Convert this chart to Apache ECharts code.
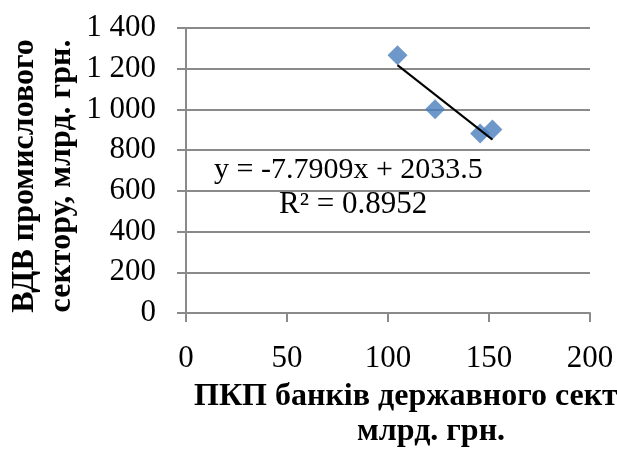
<!DOCTYPE html>
<html>
<head>
<meta charset="utf-8">
<script src="https://cdn.jsdelivr.net/npm/echarts@6/dist/echarts.min.js"></script>
<style>
  html, body { margin: 0; padding: 0; background: #ffffff; }
  #chart { width: 617px; height: 449px; }
</style>
</head>
<body>
<div id="chart"></div>
<script>
// Loans of state-owned banks (x) vs. industrial gross value added (y), bn UAH
const loansX = [104.7, 123.3, 145.6, 151.7];
const gvaY = [1266, 1001, 882, 902];

// Linear trend as reported on the chart
const trendSlope = -7.7909;
const trendIntercept = 2033.5;
const trendR2 = 0.8952;

const xTicks = [0, 50, 100, 150, 200];
const yTicks = [0, 200, 400, 600, 800, 1000, 1200, 1400];

const SERIF = '"Liberation Serif", "Times New Roman", serif';
const GRID_GRAY = '#8a8a8a';

const points = loansX.map((x, i) => [x, gvaY[i]]);
const xMin = Math.min(...loansX);
const xMax = Math.max(...loansX);
const trendLine = [
  [xMin, trendSlope * xMin + trendIntercept],
  [xMax, trendSlope * xMax + trendIntercept]
];

function spaced(v) {
  return String(v).replace(/\B(?=(\d{3})+(?!\d))/g, ' ');
}

const chart = echarts.init(document.getElementById('chart'), null, { renderer: 'canvas' });

chart.setOption({
  backgroundColor: '#ffffff',
  animation: false,
  grid: { left: 186, right: 27, top: 28, bottom: 136 },
  xAxis: {
    type: 'value',
    min: xTicks[0],
    max: xTicks[xTicks.length - 1],
    interval: 50,
    axisLine: { show: true, lineStyle: { color: GRID_GRAY, width: 2 } },
    axisTick: { show: true, inside: false, length: 9, lineStyle: { color: GRID_GRAY, width: 2 } },
    splitLine: { show: false },
    axisLabel: {
      margin: 30,
      color: '#000000',
      fontFamily: SERIF,
      fontSize: 31,
      formatter: v => spaced(v)
    }
  },
  yAxis: {
    type: 'value',
    min: yTicks[0],
    max: yTicks[yTicks.length - 1],
    interval: 200,
    axisLine: { show: true, lineStyle: { color: GRID_GRAY, width: 2 } },
    axisTick: { show: true, inside: false, length: 9, lineStyle: { color: GRID_GRAY, width: 2 } },
    splitLine: { show: true, lineStyle: { color: GRID_GRAY, width: 2 } },
    axisLabel: {
      margin: 30,
      color: '#000000',
      fontFamily: SERIF,
      fontSize: 31,
      formatter: v => spaced(v)
    }
  },
  series: [
    {
      type: 'line',
      data: trendLine,
      symbol: 'none',
      lineStyle: { color: '#000000', width: 2 },
      silent: true,
      z: 3
    },
    {
      type: 'scatter',
      data: points,
      symbol: 'diamond',
      symbolSize: 20,
      itemStyle: { color: '#4a7ebb' },
      z: 2
    }
  ],
  graphic: [
    {
      type: 'text',
      x: 214, y: 170,
      style: {
        text: 'y = ' + trendSlope + 'x + ' + trendIntercept,
        font: '30px ' + SERIF,
        fill: '#000000',
        align: 'left',
        verticalAlign: 'middle'
      }
    },
    {
      type: 'text',
      x: 279, y: 205,
      style: {
        text: 'R² = ' + trendR2,
        font: '31px ' + SERIF,
        fill: '#000000',
        align: 'left',
        verticalAlign: 'middle'
      }
    },
    {
      type: 'text',
      x: 43, y: 176,
      rotation: Math.PI / 2,
      style: {
        text: 'ВДВ промислового\nсектору, млрд. грн.',
        font: 'bold 32px ' + SERIF,
        lineHeight: 37,
        fill: '#000000',
        align: 'center',
        verticalAlign: 'middle'
      }
    },
    {
      type: 'text',
      x: 194, y: 397,
      style: {
        text: 'ПКП банків державного сектору,',
        font: 'bold 32px ' + SERIF,
        fill: '#000000',
        align: 'left',
        verticalAlign: 'middle'
      }
    },
    {
      type: 'text',
      x: 357, y: 432,
      style: {
        text: 'млрд. грн.',
        font: 'bold 32px ' + SERIF,
        fill: '#000000',
        align: 'left',
        verticalAlign: 'middle'
      }
    }
  ]
});
</script>
</body>
</html>
